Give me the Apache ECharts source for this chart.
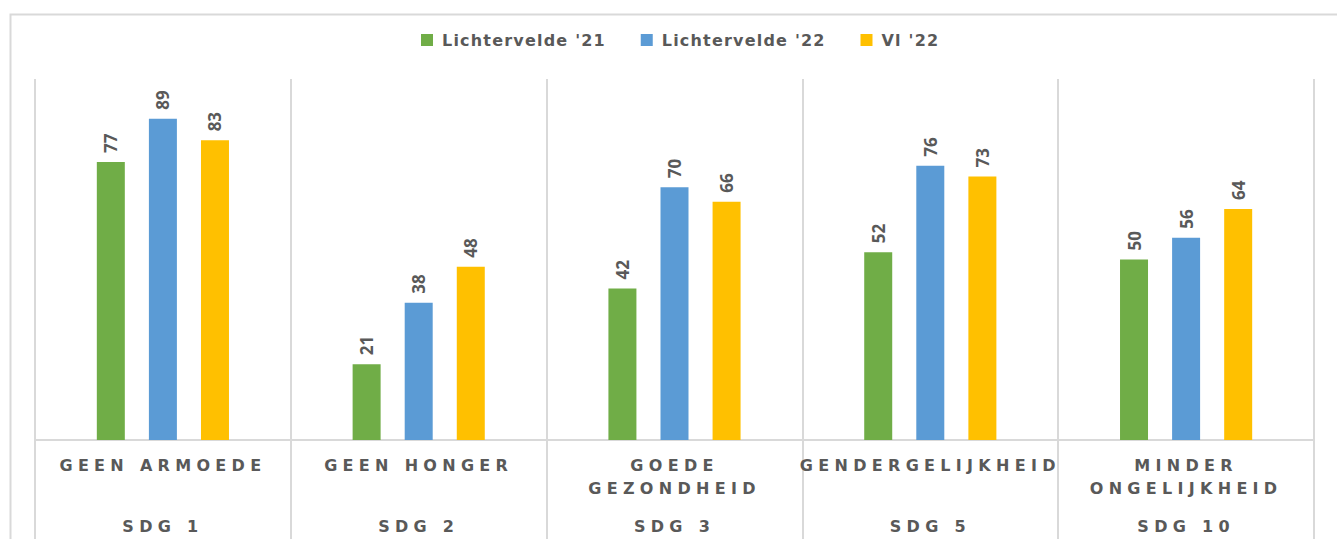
<!DOCTYPE html>
<html>
<head>
<meta charset="utf-8">
<title>SDG</title>
<script src="https://cdn.jsdelivr.net/npm/echarts@6/dist/echarts.min.js"></script>
<style>
    html, body {margin: 0; padding: 0; background: #ffffff;}
    #chart_id {width: 1337px; height: 539px;}
</style>
</head>
<body>
<div id="chart_id"></div>
<script>
// categorieen en waarden
var categories = ['GEEN ARMOEDE', 'GEEN HONGER', 'GOEDE\nGEZONDHEID', 'GENDERGELIJKHEID', 'MINDER\nONGELIJKHEID'];
var sdgLabels = ['SDG 1', 'SDG 2', 'SDG 3', 'SDG 5', 'SDG 10'];
var seriesNames = ["Lichtervelde '21", "Lichtervelde '22", "Vl '22"];
var lichtervelde21 = [77, 21, 42, 52, 50];
var lichtervelde22 = [89, 38, 70, 76, 56];
var vlaanderen22 = [83, 48, 66, 73, 64];

var textColor = '#595959';
var lineColor = '#d9d9d9';
var fontName = 'Open Sans';
var wideFont = 'DejaVu Sans';

function barSeries(name, data, color) {
    return {
        name: name,
        type: 'bar',
        data: data,
        barWidth: 28,
        barGap: '86%',
        itemStyle: {color: color},
        label: {
            show: true,
            position: 'top',
            rotate: 90,
            align: 'left',
            verticalAlign: 'middle',
            distance: 9,
            color: textColor,
            fontSize: 17,
            fontWeight: 'bold',
            fontFamily: fontName
        }
    };
}

var myChart = echarts.init(document.getElementById('chart_id'), null, {renderer: 'svg'});
var option = {
    animation: false,
    backgroundColor: '#ffffff',
    graphic: [{
        type: 'rect',
        left: 8, top: 12,
        shape: {width: 1400, height: 600},
        style: {fill: 'none', stroke: lineColor, lineWidth: 2}
    }],
    legend: {
        data: seriesNames,
        top: 32,
        left: 421,
        padding: 0,
        itemWidth: 12,
        itemHeight: 12,
        itemGap: 54,
        icon: 'rect',
        textStyle: {color: textColor, fontSize: 16, fontWeight: 'bold', fontFamily: wideFont, padding: [0, 0, 0, 4]}
    },
    grid: {left: 35, right: 23, top: 79, bottom: 99},
    xAxis: [{
        type: 'category',
        data: categories,
        axisLine: {lineStyle: {color: lineColor, width: 2}},
        axisTick: {show: true, interval: 0, length: 105, lineStyle: {color: lineColor, width: 2}},
        splitLine: {show: true, interval: 0, lineStyle: {color: lineColor, width: 2}},
        axisLabel: {
            interval: 0, margin: 14,
            color: textColor, fontSize: 16, fontWeight: 'bold', fontFamily: wideFont, lineHeight: 23
        }
    }, {
        type: 'category',
        data: sdgLabels,
        position: 'bottom',
        axisLine: {show: false},
        axisTick: {show: false},
        splitLine: {show: false},
        axisLabel: {
            interval: 0, margin: 75,
            color: textColor, fontSize: 16, fontWeight: 'bold', fontFamily: wideFont, lineHeight: 23
        }
    }],
    yAxis: {
        type: 'value',
        min: 0,
        max: 100,
        show: false,
        splitLine: {show: false}
    },
    series: [
        barSeries(seriesNames[0], lichtervelde21, '#70ad47'),
        barSeries(seriesNames[1], lichtervelde22, '#5b9bd5'),
        barSeries(seriesNames[2], vlaanderen22, '#ffc000')
    ]
};
myChart.setOption(option, true);

//as-labels en legenda krijgen extra letterafstand zoals in het origineel
function spaceLabels() {
    var words = {};
    categories.concat(sdgLabels).forEach(function (c) {
        c.split('\n').forEach(function (w) { words[w] = '5.3'; });
    });
    seriesNames.forEach(function (n) { words[n] = '1.2'; });
    var texts = document.querySelectorAll('#chart_id svg text');
    for (var i = 0; i < texts.length; i++) {
        var sp = words[texts[i].textContent];
        if (sp) {
            texts[i].setAttribute('letter-spacing', sp);
        }
    }
}
spaceLabels();
myChart.on('finished', spaceLabels);
</script>
</body>
</html>
